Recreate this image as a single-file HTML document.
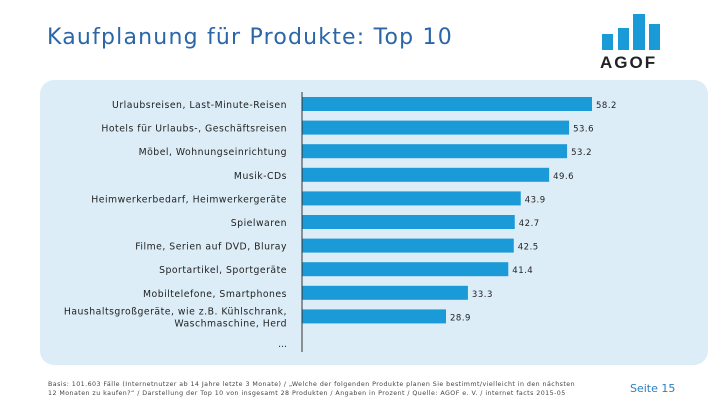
<!DOCTYPE html>
<html><head><meta charset="utf-8"><style>
body{margin:0;width:720px;height:405px;background:#fff;position:relative;overflow:hidden;font-family:"DejaVu Sans","Liberation Sans",sans-serif}
.t{position:absolute;left:47px;top:25px;font-size:22px;color:#2a66a8;letter-spacing:1.2px}
.panel{position:absolute;left:40px;top:80px;width:668px;height:285px;background:#dcedf8;border-radius:14px}
.foot{position:absolute;left:48px;top:380px;font-size:6.3px;line-height:9px;color:#444;white-space:nowrap;letter-spacing:0.45px}
.page{position:absolute;left:630px;top:382px;font-size:11px;color:#2a7fc0}
</style></head><body>
<div class="t">Kaufplanung für Produkte: Top 10</div>
<svg style="position:absolute;left:0;top:0" width="720" height="80">
<rect x="602" y="34" width="11" height="16" fill="#1a9ad6"/><rect x="618" y="28" width="11" height="22" fill="#1a9ad6"/>
<rect x="633" y="14" width="12" height="36" fill="#1a9ad6"/><rect x="649" y="24" width="11" height="26" fill="#1a9ad6"/>
<text x="600" y="68" font-size="17" font-weight="bold" fill="#222" font-family="Liberation Sans" letter-spacing="2">AGOF</text>
</svg>
<div class="panel"></div>
<svg id="c" style="position:absolute;left:0;top:0" width="720" height="405"></svg>
<div class="foot">Basis: 101.603 Fälle (Internetnutzer ab 14 Jahre letzte 3 Monate) / „Welche der folgenden Produkte planen Sie bestimmt/vielleicht in den nächsten<br>12 Monaten zu kaufen?“ / Darstellung der Top 10 von insgesamt 28 Produkten / Angaben in Prozent / Quelle: AGOF e. V. / internet facts 2015-05</div>
<div class="page">Seite 15</div>
<script>
const categories=[["Urlaubsreisen, Last-Minute-Reisen"],["Hotels für Urlaubs-, Geschäftsreisen"],["Möbel, Wohnungseinrichtung"],["Musik-CDs"],["Heimwerkerbedarf, Heimwerkergeräte"],["Spielwaren"],["Filme, Serien auf DVD, Bluray"],["Sportartikel, Sportgeräte"],["Mobiltelefone, Smartphones"],["Haushaltsgroßgeräte, wie z.B. Kühlschrank,","Waschmaschine, Herd"]];
const values=[58.2,53.6,53.2,49.6,43.9,42.7,42.5,41.4,33.3,28.9];
const labels=["58.2","53.6","53.2","49.6","43.9","42.7","42.5","41.4","33.3","28.9"];
const svg=document.getElementById('c');const NS='http://www.w3.org/2000/svg';
const x0=302,k=290/58.2;const xs=v=>x0+v*k;const ys=i=>104+i*23.6;
function mk(t,a){const e=document.createElementNS(NS,t);for(const n in a)e.setAttribute(n,a[n]);svg.appendChild(e);return e;}
values.forEach((v,i)=>{
const r=mk('rect',{x:x0,y:ys(i)-7,width:xs(v)-x0,height:14,fill:'#1a9ad6'});


const lt=mk('text',{x:xs(v)+4,y:ys(i)+4,'font-size':8.5,fill:'#222','letter-spacing':0.5});lt.textContent=labels[i];


const lines=categories[i];
lines.forEach((s,j)=>{const t=mk('text',{x:287,y:ys(i)+4+(j-(lines.length-1)/2)*12,'font-size':9.3,fill:'#222','text-anchor':'end','letter-spacing':0.5});t.textContent=s;

});
});
const ax=mk('line',{x1:x0,y1:92,x2:x0,y2:352,stroke:'#333','stroke-width':1});


const d=mk('text',{x:287,y:347,'font-size':9.3,fill:'#222','text-anchor':'end'});d.textContent='...';


</script>
</body></html>
